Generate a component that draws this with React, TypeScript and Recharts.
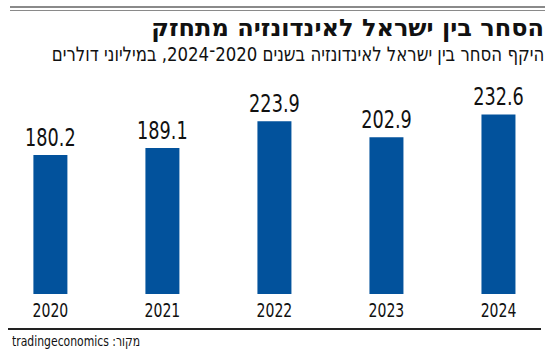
import { Bar, BarChart, LabelList, XAxis, YAxis } from 'recharts';

const years = [2020, 2021, 2022, 2023, 2024];
const trade = [180.2, 189.1, 223.9, 202.9, 232.6];

const data = years.map((year, i) => ({ year, value: trade[i] }));

const narrow = '"DejaVu Sans Condensed", "DejaVu Sans", sans-serif';

// the reference uses a condensed face, so squeeze the glyphs horizontally
const YearTick = ({ x, y, payload }: any) => (
  <text
    transform={`translate(${x}, ${Number(y) + 16}) scale(0.78, 1)`}
    textAnchor="middle"
    dominantBaseline="central"
    fontSize={20}
    fill="#111"
    fontFamily={narrow}
  >
    {payload.value}
  </text>
);

const ValueLabel = ({ x, y, width, value }: any) => (
  <text
    transform={`translate(${Number(x) + Number(width) / 2}, ${Number(y) - 9}) scale(0.82, 1)`}
    textAnchor="middle"
    fontSize={24}
    fill="#111"
    fontFamily={narrow}
  >
    {Number(value).toFixed(1)}
  </text>
);

export default function App() {
  return (
    <div
      style={{
        position: 'absolute',
        left: 0,
        top: 0,
        width: 550,
        height: 358,
        background: '#fff',
        overflow: 'hidden',
      }}
    >
      <div style={{ position: 'absolute', left: 10, top: 6, width: 535, height: 2, background: '#8a8a8a' }} />
      <div style={{ position: 'absolute', left: 10, top: 9.5, width: 535, height: 1, background: '#8a8a8a' }} />
      <div
        style={{
          position: 'absolute',
          right: 6,
          top: 16,
          direction: 'rtl',
          fontFamily: '"DejaVu Sans", sans-serif',
          fontWeight: 900,
          fontSize: 24,
          lineHeight: '24px',
          color: '#111',
          whiteSpace: 'nowrap',
        }}
      >
        הסחר בין ישראל לאינדונזיה מתחזק
      </div>
      <div
        style={{
          position: 'absolute',
          right: 6,
          top: 44,
          direction: 'rtl',
          fontFamily: narrow,
          fontSize: 20,
          lineHeight: '20px',
          color: '#111',
          whiteSpace: 'nowrap',
          transform: 'scaleX(0.92)',
          transformOrigin: 'right center',
        }}
      >
        היקף הסחר בין ישראל לאינדונזיה בשנים 2020־2024, במיליוני דולרים
      </div>

      <div style={{ position: 'absolute', left: 0, top: 0 }}>
        <BarChart width={550} height={358} data={data} margin={{ top: 101, right: 0, bottom: 34, left: 0 }}>
          <XAxis
            dataKey="year"
            type="number"
            scale="linear"
            domain={[2019.55, 2024.46]}
            ticks={years}
            allowDataOverflow
            axisLine={false}
            tickLine={false}
            tickSize={0}
            tickMargin={0}
            height={30}
            tick={<YearTick />}
          />
          <YAxis hide domain={[0, 250]} />
          <Bar dataKey="value" fill="#02529c" barSize={34} isAnimationActive={false}>
            <LabelList dataKey="value" content={<ValueLabel />} />
          </Bar>
        </BarChart>
      </div>

      <div style={{ position: 'absolute', left: 8, top: 328, width: 533, height: 1.5, background: '#222' }} />
      <div
        style={{
          position: 'absolute',
          left: 12,
          top: 333,
          direction: 'rtl',
          fontFamily: narrow,
          fontSize: 14,
          lineHeight: '16px',
          color: '#111',
          whiteSpace: 'nowrap',
          transform: 'scaleX(0.86)',
          transformOrigin: 'left center',
        }}
      >
        מקור: tradingeconomics
      </div>
    </div>
  );
}
